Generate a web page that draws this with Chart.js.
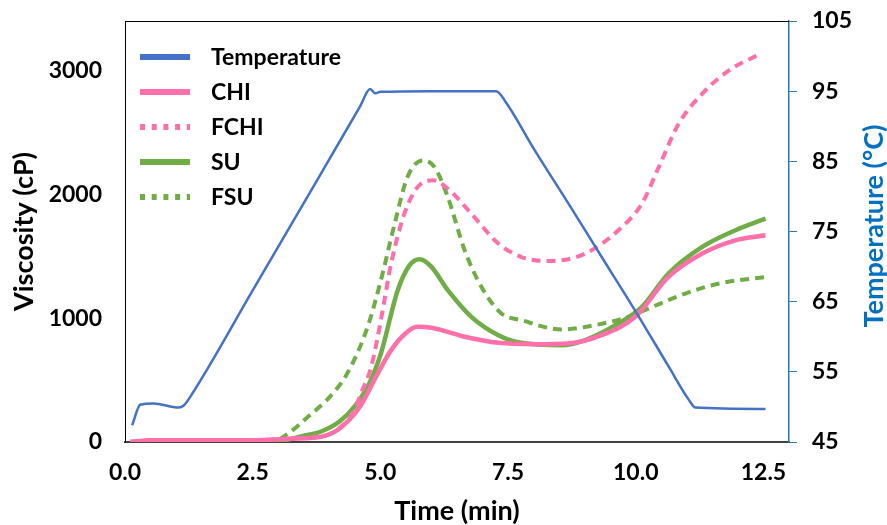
<!DOCTYPE html>
<html>
<head>
<meta charset="utf-8">
<script src="https://cdn.jsdelivr.net/npm/chart.js@4/dist/chart.umd.min.js"></script>
<style>
  body { margin: 0; background: #fff; }
</style>
</head>
<body>
<canvas id="chart" width="887" height="525"></canvas>
<script>
// Time (min) / value pairs
const timeTemp = [0.14, 0.3, 0.56, 1.05, 1.15, 1.3, 2.5, 3.8, 4.6, 4.8, 4.9, 5.0, 6.0, 7.27, 7.45, 8.02, 8.68, 9.33, 9.99, 10.64, 11.04, 11.17, 12.54]
const temperature = [47.4, 50.3, 50.5, 49.9, 50.2, 51.7, 66.6, 82.8, 92.8, 95.3, 94.7, 94.9, 95.0, 95.0, 93.5, 86.6, 79.0, 71.4, 63.7, 55.8, 51.0, 49.9, 49.7]

const timeChi = [0.1, 0.5, 1.5, 2.5, 2.9, 3.3, 3.84, 4.16, 4.6, 4.88, 5.21, 5.53, 5.73, 6.0, 6.65, 7.31, 8.02, 8.68, 9.33, 9.99, 10.64, 11.3, 11.95, 12.54]
const chi = [0, 15, 15, 15, 20, 28, 43, 97, 285, 500, 742, 890, 930, 922, 850, 801, 790, 796, 863, 1011, 1333, 1522, 1629, 1669]

const timeFchi = [0.1, 0.5, 1.5, 2.5, 2.9, 3.3, 3.84, 4.16, 4.49, 4.62, 4.82, 5.01, 5.21, 5.47, 5.73, 6.03, 6.32, 6.78, 7.31, 7.76, 8.35, 9.01, 9.66, 10.12, 10.45, 10.84, 11.3, 11.82, 12.44]
const fchi = [0, 15, 15, 15, 20, 28, 45, 100, 258, 393, 607, 984, 1441, 1844, 2059, 2113, 2046, 1844, 1603, 1494, 1462, 1522, 1710, 1925, 2220, 2570, 2812, 3000, 3135]

const timeSu = [0.1, 1.0, 2.5, 3.05, 3.5, 3.84, 4.2, 4.5, 4.78, 5.01, 5.34, 5.57, 5.77, 6.0, 6.32, 6.78, 7.31, 7.76, 8.55, 9.01, 9.66, 10.12, 10.64, 11.3, 11.95, 12.54]
const su = [0, 5, 5, 10, 50, 85, 165, 290, 470, 715, 1226, 1427, 1476, 1414, 1226, 1011, 863, 801, 782, 823, 957, 1091, 1360, 1575, 1710, 1804]

const timeFsu = [0.1, 1.0, 2.5, 2.9, 3.2, 3.6, 4.0, 4.36, 4.75, 5.01, 5.28, 5.53, 5.83, 6.06, 6.32, 6.65, 6.98, 7.37, 7.76, 8.55, 9.2, 9.86, 10.32, 10.97, 11.63, 12.54]
const fsu = [0, 5, 5, 8, 70, 210, 360, 560, 930, 1306, 1764, 2140, 2274, 2220, 1978, 1548, 1252, 1038, 984, 909, 944, 1011, 1091, 1199, 1280, 1333]

const xTicks = [0, 2.5, 5, 7.5, 10, 12.5]
const viscTicks = [0, 1000, 2000, 3000]

const toPoints = (xs, ys) => xs.map((x, i) => ({ x: x, y: ys[i] }))

const BLUE = "#4472C4"
const PINK = "#FF6FAA"
const GREEN = "#70AD47"
const AXIS_BLUE = "#2E75B6"

// legend drawn inside the plot, top left
const insideLegend = {
  id: "insideLegend",
  afterDatasetsDraw(chart) {
    const ctx = chart.ctx
    ctx.save()
    chart.data.datasets.forEach((ds, i) => {
      const y = 57 + i * 35
      ctx.beginPath()
      ctx.strokeStyle = ds.borderColor
      ctx.lineWidth = 6
      ctx.setLineDash(ds.borderDash && ds.borderDash.length ? [5, 6.7] : [])
      ctx.moveTo(140, y)
      ctx.lineTo(190, y)
      ctx.stroke()
      ctx.setLineDash([])
      ctx.fillStyle = "#000"
      ctx.font = "bold 23px Lato"
      ctx.textAlign = "left"
      ctx.textBaseline = "middle"
      ctx.fillText(ds.label, 211, y + 1)
    })
    ctx.restore()
  },
  afterDraw(chart) {
    const ctx = chart.ctx
    const area = chart.chartArea
    ctx.save()
    // top border of the plot box
    ctx.beginPath()
    ctx.strokeStyle = "#000"
    ctx.lineWidth = 1
    ctx.moveTo(area.left, area.top + 0.5)
    ctx.lineTo(area.right, area.top + 0.5)
    ctx.stroke()
    // right axis title reads bottom to top
    ctx.translate(874, 226)
    ctx.rotate(-Math.PI / 2)
    ctx.fillStyle = "#0070C0"
    ctx.font = "bold 27px Lato"
    ctx.textAlign = "center"
    ctx.textBaseline = "middle"
    ctx.fillText("Temperature (°C)", 0, 0)
    ctx.restore()
  },
}

// keep the tick label padding from pushing the plot area down
function trimPadding(scale) {
  scale.paddingTop = 10
  scale.paddingBottom = 10
}

Chart.defaults.font.family = "Lato"
Chart.defaults.font.weight = "bold"
Chart.defaults.color = "#000"

new Chart(document.getElementById("chart"), {
  type: "line",
  data: {
    datasets: [
      {
        label: "Temperature",
        data: toPoints(timeTemp, temperature),
        yAxisID: "y1",
        borderColor: BLUE,
        borderWidth: 2.5,
        pointRadius: 0,
        cubicInterpolationMode: "monotone",
      },
      {
        label: "CHI",
        data: toPoints(timeChi, chi),
        yAxisID: "y",
        borderColor: PINK,
        borderWidth: 4.5,
        pointRadius: 0,
        cubicInterpolationMode: "monotone",
      },
      {
        label: "FCHI",
        data: toPoints(timeFchi, fchi),
        yAxisID: "y",
        borderColor: PINK,
        borderWidth: 4,
        borderDash: [9, 6],
        pointRadius: 0,
        cubicInterpolationMode: "monotone",
      },
      {
        label: "SU",
        data: toPoints(timeSu, su),
        yAxisID: "y",
        borderColor: GREEN,
        borderWidth: 4.5,
        pointRadius: 0,
        cubicInterpolationMode: "monotone",
      },
      {
        label: "FSU",
        data: toPoints(timeFsu, fsu),
        yAxisID: "y",
        borderColor: GREEN,
        borderWidth: 4,
        borderDash: [9, 6],
        pointRadius: 0,
        cubicInterpolationMode: "monotone",
      },
    ],
  },
  options: {
    responsive: false,
    animation: false,
    layout: { padding: { top: 21, left: 0, right: 0, bottom: 0 } },
    plugins: {
      legend: { display: false },
      tooltip: { enabled: false },
    },
    scales: {
      x: {
        type: "linear",
        min: 0,
        max: 13,
        afterBuildTicks: (scale) => {
          scale.ticks = xTicks.map((v) => ({ value: v }))
        },
        afterFit: (scale) => {
          scale.height = 83
        },
        ticks: {
          font: { size: 23, weight: "bold" },
          padding: 17,
          callback: (value) => value.toFixed(1),
        },
        grid: { display: false, drawTicks: false },
        border: { color: "#404040", width: 2 },
        title: {
          display: true,
          text: "Time (min)",
          font: { size: 27, weight: "bold", lineHeight: 1 },
          padding: 0,
        },
      },
      y: {
        position: "left",
        min: 0,
        max: 3400,
        afterBuildTicks: (scale) => {
          scale.ticks = viscTicks.map((v) => ({ value: v }))
        },
        afterFit: (scale) => {
          scale.width = 125
          trimPadding(scale)
        },
        ticks: {
          font: { size: 23, weight: "bold" },
          padding: 23,
          callback: (value) => String(value),
        },
        grid: { display: false, drawTicks: false },
        border: { color: "#000", width: 1 },
        title: {
          display: true,
          text: "Viscosity (cP)",
          font: { size: 27, weight: "bold" },
          padding: { top: 8, bottom: 0 },
        },
      },
      y1: {
        position: "right",
        min: 45,
        max: 105,
        afterFit: (scale) => {
          scale.width = 98
          trimPadding(scale)
        },
        ticks: {
          stepSize: 10,
          font: { size: 23, weight: "bold" },
          padding: 15,
        },
        grid: {
          drawOnChartArea: false,
          drawTicks: true,
          tickLength: 8,
          color: AXIS_BLUE,
        },
        border: { color: AXIS_BLUE, width: 1.5 },
      },
    },
  },
  plugins: [insideLegend],
})
</script>
</body>
</html>
